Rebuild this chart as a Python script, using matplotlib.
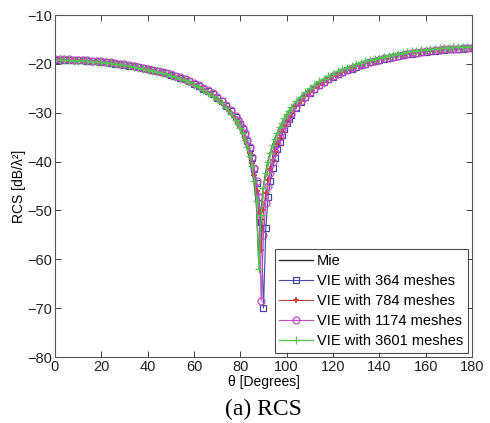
import matplotlib
matplotlib.use("Agg")
import matplotlib.pyplot as plt

plt.rcParams['font.family'] = ['Liberation Sans', 'DejaVu Sans']

# scattering angle grid (2 deg steps, 1 deg steps around the null)
theta = [0, 2, 4, 6, 8, 10, 12, 14, 16, 18, 20, 22, 24, 26, 28, 30, 32, 34, 36, 38,
         40, 42, 44, 46, 48, 50, 52, 54, 56, 58, 60, 62, 64, 66, 68, 70, 72, 74, 76, 78,
         79, 80, 81, 82, 83, 84, 85, 86, 87, 88, 89, 90, 91, 92, 93, 94, 95, 96, 97, 98,
         99, 100, 101,
         102, 104, 106, 108, 110, 112, 114, 116, 118, 120, 122, 124, 126, 128, 130, 132,
         134, 136, 138, 140, 142, 144, 146, 148, 150, 152, 154, 156, 158, 160, 162, 164,
         166, 168, 170, 172, 174, 176, 178, 180]

rcs_mie = [-19.30, -19.30, -19.31, -19.33, -19.36, -19.40, -19.45, -19.51, -19.58, -19.66,
           -19.75, -19.85, -19.96, -20.08, -20.21, -20.35, -20.50, -20.66, -20.83, -21.02,
           -21.22, -21.43, -21.66, -21.90, -22.16, -22.44, -22.74, -23.07, -23.42, -23.80,
           -24.3, -24.8, -25.35, -25.95, -26.6, -27.35, -28.2, -29.2, -30.4, -31.8,
           -32.6, -33.5, -34.6, -35.9, -37.4, -39.3, -41.6, -44.6, -49.2, -61.0,
           -50.0, -45.0, -42.0, -39.8, -38.0, -36.5, -35.2, -34.0, -33.0, -32.0,
           -31.1, -30.3, -29.6,
           -28.9, -27.8, -26.8, -25.9, -25.1, -24.4, -23.7, -23.1, -22.6, -22.1,
           -21.65, -21.25, -20.85, -20.5, -20.15, -19.85, -19.55, -19.3, -19.05, -18.8,
           -18.6, -18.4, -18.2, -18.0, -17.85, -17.7, -17.55, -17.4, -17.3, -17.2,
           -17.1, -17.0, -16.9, -16.8, -16.75, -16.7, -16.65, -16.6, -16.55, -16.55]

rcs_364 = [-19.15, -19.15, -19.16, -19.18, -19.21, -19.25, -19.30, -19.36, -19.43, -19.51,
           -19.60, -19.70, -19.81, -19.93, -20.06, -20.20, -20.35, -20.51, -20.68, -20.87,
           -21.06, -21.27, -21.49, -21.72, -21.97, -22.24, -22.53, -22.85, -23.19, -23.56,
           -24.1, -24.55, -25.05, -25.6, -26.2, -26.9, -27.7, -28.6, -29.65, -30.9,
           -31.6, -32.4, -33.3, -34.4, -35.7, -37.3, -39.2, -41.5, -44.3, -47.2,
           -52.3, -70.0, -53.6, -47.2, -44.0, -41.4, -39.3, -37.5, -35.9, -34.5,
           -33.3, -32.2, -31.2,
           -30.4, -29.0, -27.8, -26.8, -25.9, -25.1, -24.4, -23.75, -23.15, -22.6,
           -22.15, -21.7, -21.3, -20.95, -20.6, -20.3, -20.0, -19.7, -19.45, -19.2,
           -18.95, -18.75, -18.55, -18.35, -18.2, -18.05, -17.9, -17.75, -17.6, -17.5,
           -17.4, -17.3, -17.2, -17.1, -17.05, -17.0, -16.95, -16.9, -16.85, -16.85]

rcs_784 = [-19.22, -19.22, -19.23, -19.25, -19.28, -19.32, -19.37, -19.43, -19.50, -19.58,
           -19.67, -19.77, -19.88, -20.00, -20.13, -20.27, -20.42, -20.58, -20.75, -20.94,
           -21.13, -21.34, -21.57, -21.81, -22.06, -22.34, -22.63, -22.96, -23.30, -23.68,
           -24.2, -24.65, -25.2, -25.75, -26.4, -27.1, -27.95, -28.9, -30.0, -31.3,
           -32.0, -32.9, -33.9, -35.1, -36.5, -38.2, -40.3, -42.8, -46.0, -50.5,
           -58.0, -50.0, -46.5, -43.8, -41.6, -39.7, -38.0, -36.5, -35.1, -33.9,
           -32.8, -31.8, -30.9,
           -30.0, -28.7, -27.55, -26.6, -25.75, -25.0, -24.3, -23.65, -23.05, -22.5,
           -22.05, -21.6, -21.2, -20.85, -20.5, -20.2, -19.9, -19.6, -19.35, -19.1,
           -18.85, -18.65, -18.45, -18.25, -18.1, -17.95, -17.8, -17.65, -17.5, -17.4,
           -17.3, -17.2, -17.1, -17.0, -16.95, -16.9, -16.85, -16.8, -16.75, -16.75]

rcs_1174 = [-19.05, -19.05, -19.06, -19.08, -19.11, -19.15, -19.20, -19.26, -19.33, -19.41,
            -19.50, -19.60, -19.71, -19.83, -19.96, -20.10, -20.25, -20.41, -20.58, -20.77,
            -20.96, -21.17, -21.39, -21.62, -21.87, -22.14, -22.43, -22.74, -23.08, -23.44,
            -23.95, -24.4, -24.9, -25.45, -26.05, -26.75, -27.55, -28.45, -29.5, -30.75,
            -31.45, -32.25, -33.15, -34.25, -35.55, -37.1, -39.0, -41.3, -44.0, -47.3,
            -68.6, -55.0, -48.5, -45.0, -42.3, -40.0, -38.1, -36.5, -35.0, -33.7,
            -32.6, -31.6, -30.7,
            -30.2, -28.85, -27.7, -26.7, -25.85, -25.05, -24.35, -23.7, -23.1, -22.55,
            -22.1, -21.65, -21.25, -20.9, -20.55, -20.25, -19.95, -19.65, -19.4, -19.15,
            -18.9, -18.7, -18.5, -18.3, -18.15, -18.0, -17.85, -17.7, -17.55, -17.45,
            -17.35, -17.25, -17.15, -17.05, -17.0, -16.95, -16.9, -16.85, -16.8, -16.8]

rcs_3601 = [-19.25, -19.25, -19.26, -19.28, -19.31, -19.35, -19.40, -19.46, -19.53, -19.61,
            -19.70, -19.80, -19.91, -20.03, -20.16, -20.30, -20.45, -20.61, -20.78, -20.97,
            -21.17, -21.38, -21.61, -21.85, -22.11, -22.39, -22.69, -23.02, -23.37, -23.75,
            -24.25, -24.75, -25.3, -25.9, -26.55, -27.25, -28.1, -29.05, -30.2, -31.55,
            -32.3, -33.2, -34.25, -35.5, -36.95, -38.8, -41.0, -43.9, -48.0, -62.0,
            -51.0, -45.5, -42.3, -40.0, -38.2, -36.7, -35.3, -34.1, -33.0, -32.0,
            -31.1, -30.3, -29.55,
            -28.8, -27.7, -26.7, -25.8, -25.0, -24.3, -23.6, -23.0, -22.5, -22.0,
            -21.55, -21.15, -20.75, -20.4, -20.05, -19.75, -19.45, -19.2, -18.95, -18.7,
            -18.5, -18.3, -18.1, -17.9, -17.75, -17.6, -17.45, -17.3, -17.2, -17.1,
            -17.0, -16.9, -16.8, -16.7, -16.65, -16.6, -16.55, -16.5, -16.45, -16.45]

fig = plt.figure(figsize=(4.9, 4.23), dpi=100)
ax = fig.add_axes([0.1122, 0.156, 0.8511, 0.8085])

ax.plot(theta, rcs_mie, color='#2e2e2e', lw=1.0, label='Mie')
ax.plot(theta, rcs_364, color='#4646a8', lw=0.8, marker='s', ms=5, mfc='none',
        mew=0.9, label='VIE with 364 meshes')
ax.plot(theta, rcs_784, color='#c83c3c', lw=0.8, marker='+', ms=5,
        mew=1.3, label='VIE with 784 meshes')
ax.plot(theta, rcs_1174, color='#c24ac2', lw=0.8, marker='o', ms=5, mfc='none',
        mew=0.9, label='VIE with 1174 meshes')
ax.plot(theta, rcs_3601, color='#55c455', lw=0.9, marker='+', ms=5.5,
        mew=0.9, label='VIE with 3601 meshes')

ax.set_xlim(0, 180)
ax.set_ylim(-80, -10)
ax.set_xticks(range(0, 181, 20))
ax.set_yticks(range(-80, -9, 10))
ax.tick_params(direction='in', top=True, right=True, labelsize=10.5,
               length=4, width=0.6, colors='#222222', pad=2)
for sp in ax.spines.values():
    sp.set_color('#555555')
    sp.set_linewidth(0.8)

ax.set_xlabel('\u03b8 [Degrees]', fontsize=10, labelpad=1)
ax.set_ylabel('RCS [dB/\u03bb\u00b2]', fontsize=10, labelpad=1)

leg = ax.legend(loc='lower right', fontsize=10.5, frameon=True, fancybox=False,
                edgecolor='#222222', handlelength=2.3, handletextpad=0.3,
                borderpad=0.3, labelspacing=0.42, borderaxespad=0.3)
leg.get_frame().set_linewidth(0.8)

fig.text(0.537, 0.033, '(a) RCS', fontsize=17, family='Liberation Serif',
         ha='center', va='center')

fig.savefig('out.png', dpi=100)
